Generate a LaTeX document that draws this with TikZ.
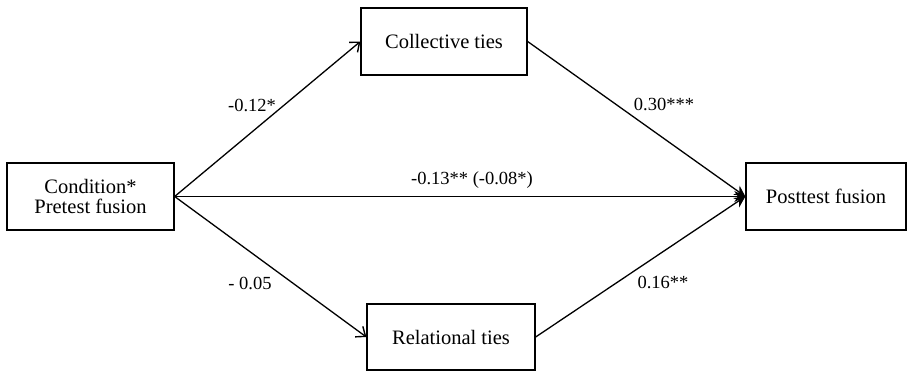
\documentclass[tikz,border=0pt]{standalone}
\usepackage{fontspec}
\setmainfont{Liberation Serif}
\usetikzlibrary{arrows.meta}
\begin{document}
\begin{tikzpicture}[x=1pt,y=-1pt,
  box/.style={draw,line width=1.3pt,inner sep=0pt,font=\fontsize{20.5}{23}\selectfont,align=center},
  lab/.style={font=\fontsize{18.5}{20}\selectfont,inner sep=0pt},
  conn/.style={line width=1.3pt,-{Straight Barb[length=8pt,width=13pt,line width=1.4pt]}},
  tofin/.style={line width=1.3pt,-{Stealth[length=11pt,width=11pt]}}]
\useasboundingbox (0,0) rectangle (908,371);
\node[box,minimum width=167pt,minimum height=67pt] (cond) at (90.5,196.5) {Condition*\\[-3pt]Pretest fusion};
\node[box,minimum width=166pt,minimum height=67pt] (coll) at (444,41.5) {Collective ties};
\node[box,minimum width=168pt,minimum height=66pt] (rel) at (451,337) {Relational ties};
\node[box,minimum width=160pt,minimum height=67pt] (post) at (826,196.5) {Posttest fusion};
\draw[conn] (cond.east) -- (coll.west);
\draw[conn] (cond.east) -- (rel.west);
\draw[tofin,line width=1.7pt] (cond.east) -- (post.west);
\draw[tofin] (coll.east) -- (post.west);
\draw[tofin] (rel.east) -- (post.west);
\node[lab] (l1) at (252,105) {-0.12*};
\node[lab] (l2) at (472,180) {-0.13** (-0.08*)};
\node[lab] (l3) at (664,104) {0.30***};
\node[lab] (l4) at (250,283) {- 0.05};
\node[lab] (l5) at (663,282) {0.16**};
\end{tikzpicture}
\end{document}
